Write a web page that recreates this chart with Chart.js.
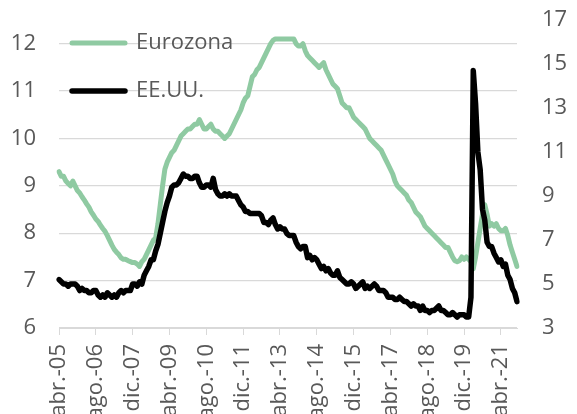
<!DOCTYPE html>
<html>
<head>
<meta charset="utf-8">
<script src="https://cdn.jsdelivr.net/npm/chart.js@4.4.0/dist/chart.umd.min.js"></script>
<style>
  body { margin: 0; background: #fff; }
  #wrap { width: 577px; height: 414px; position: relative; }
</style>
</head>
<body>
<div id="wrap"><canvas id="myChart"></canvas></div>
<script>
// monthly, abr.-2005 .. nov.-2021
var monthNames = ['ene.', 'feb.', 'mar.', 'abr.', 'may.', 'jun.', 'jul.', 'ago.', 'sept.', 'oct.', 'nov.', 'dic.'];
var startYear = 2005, startMonth = 3, nMonths = 200;
var labelStep = 16;

// paro Eurozona (%), eje izquierdo
var eurozona = [
  9.3, 9.2, 9.2, 9.1, 9.05, 9.0, 9.1, 9.0, 8.9,
  8.85, 8.77, 8.7, 8.62, 8.55, 8.45, 8.38, 8.3, 8.25, 8.17, 8.1, 8.04,
  7.95, 7.85, 7.75, 7.66, 7.6, 7.55, 7.48, 7.45, 7.45, 7.42, 7.4, 7.38,
  7.38, 7.35, 7.3, 7.4, 7.45, 7.55, 7.65, 7.75, 7.85, 7.9, 8.2, 8.6,
  9.0, 9.35, 9.5, 9.6, 9.7, 9.75, 9.85, 9.95, 10.05, 10.1, 10.15, 10.2,
  10.2, 10.25, 10.3, 10.3, 10.4, 10.3, 10.2, 10.2, 10.25, 10.3, 10.2, 10.15,
  10.15, 10.1, 10.05, 10.0, 10.05, 10.1, 10.2, 10.3, 10.4, 10.5, 10.6, 10.75,
  10.85, 10.9, 11.1, 11.3, 11.35, 11.45, 11.5, 11.6, 11.7, 11.8, 11.9, 12.0,
  12.07, 12.1, 12.1, 12.1, 12.1, 12.1, 12.1, 12.1, 12.1, 12.1, 12.0, 11.95,
  11.95, 12.0, 11.85, 11.75, 11.7, 11.65, 11.6, 11.55, 11.5, 11.55, 11.6, 11.45,
  11.35, 11.25, 11.15, 11.1, 11.05, 10.9, 10.75, 10.7, 10.65, 10.65, 10.55, 10.45,
  10.4, 10.35, 10.3, 10.25, 10.2, 10.1, 10.0, 9.95, 9.9, 9.85, 9.8, 9.75,
  9.65, 9.55, 9.45, 9.35, 9.25, 9.1, 9.0, 8.95, 8.9, 8.85, 8.8, 8.7,
  8.65, 8.55, 8.45, 8.4, 8.35, 8.25, 8.15, 8.1, 8.05, 8.0, 7.95, 7.9,
  7.85, 7.8, 7.75, 7.7, 7.7, 7.6, 7.5, 7.42, 7.4, 7.42, 7.5, 7.45,
  7.5, 7.45, 7.4, 7.25, 7.5, 7.8, 8.1, 8.4, 8.6, 8.4, 8.15, 8.2,
  8.15, 8.2, 8.1, 8.05, 8.05, 8.1, 7.95, 7.75, 7.6, 7.45, 7.3
];

// paro EE.UU. (%), eje derecho
var eeuu = [
  5.2, 5.1, 5.0, 5.0, 4.9, 5.0, 5.0, 5.0, 4.9,
  4.7, 4.8, 4.7, 4.7, 4.6, 4.6, 4.7, 4.7, 4.5, 4.4, 4.5, 4.4,
  4.6, 4.5, 4.4, 4.5, 4.4, 4.6, 4.7, 4.6, 4.7, 4.7, 4.7, 5.0,
  5.0, 4.9, 5.1, 5.0, 5.4, 5.6, 5.8, 6.1, 6.1, 6.5, 6.8, 7.3,
  7.8, 8.3, 8.7, 9.0, 9.4, 9.5, 9.5, 9.6, 9.8, 10.0, 9.9, 9.9,
  9.8, 9.8, 9.9, 9.9, 9.6, 9.4, 9.4, 9.5, 9.5, 9.4, 9.8, 9.3,
  9.1, 9.0, 9.0, 9.1, 9.0, 9.1, 9.0, 9.0, 9.0, 8.8, 8.6, 8.5,
  8.3, 8.3, 8.2, 8.2, 8.2, 8.2, 8.2, 8.1, 7.8, 7.8, 7.7, 7.9,
  8.0, 7.7, 7.5, 7.6, 7.5, 7.5, 7.3, 7.2, 7.2, 7.2, 6.9, 6.7,
  6.6, 6.7, 6.7, 6.2, 6.3, 6.1, 6.2, 6.1, 5.9, 5.7, 5.8, 5.6,
  5.7, 5.5, 5.4, 5.4, 5.6, 5.3, 5.2, 5.1, 5.0, 5.0, 5.1, 5.0,
  4.8, 4.9, 5.0, 5.1, 4.8, 4.9, 4.8, 4.9, 5.0, 4.9, 4.7, 4.7,
  4.7, 4.6, 4.4, 4.4, 4.4, 4.3, 4.3, 4.4, 4.3, 4.2, 4.2, 4.1,
  4.0, 4.1, 4.0, 4.0, 3.8, 4.0, 3.8, 3.8, 3.7, 3.8, 3.8, 3.9,
  4.0, 3.8, 3.8, 3.7, 3.6, 3.6, 3.7, 3.6, 3.5, 3.6, 3.6, 3.6,
  3.5, 3.5, 4.4, 14.7, 13.2, 11.0, 10.2, 8.4, 7.9, 6.9, 6.7, 6.7,
  6.4, 6.2, 6.0, 6.1, 5.8, 5.9, 5.4, 5.2, 4.8, 4.6, 4.2
];

var leftTicks = [6, 7, 8, 9, 10, 11, 12];
var rightTicks = [3, 5, 7, 9, 11, 13, 15, 17];

var labels = [];
for (var i = 0; i < nMonths; i++) {
  var m = (startMonth + i) % 12;
  var y = startYear + Math.floor((startMonth + i) / 12);
  labels.push(monthNames[m] + '-' + String(y).slice(2));
}

var green = '#8FCAA2';
var textColor = '#595959';
var gridColor = '#D9D9D9';
var font = { family: '"Open Sans", sans-serif', size: 22 };

// leyenda dentro del area del grafico
var insideLegend = {
  id: 'insideLegend',
  afterDraw: function(chart) {
    var ctx = chart.ctx;
    var area = chart.chartArea;
    var rows = [
      { text: chart.data.datasets[1].label, color: chart.data.datasets[1].borderColor, w: 5, y: area.top + 23 },
      { text: chart.data.datasets[0].label, color: chart.data.datasets[0].borderColor, w: 5.5, y: area.top + 71 }
    ];
    ctx.save();
    rows.forEach(function(r) {
      ctx.strokeStyle = r.color;
      ctx.lineWidth = r.w;
      ctx.lineCap = 'round';
      ctx.beginPath();
      ctx.moveTo(area.left + 13, r.y);
      ctx.lineTo(area.left + 66, r.y);
      ctx.stroke();
      ctx.fillStyle = textColor;
      ctx.font = font.size + 'px ' + font.family;
      ctx.textBaseline = 'middle';
      ctx.textAlign = 'left';
      ctx.fillText(r.text, area.left + 77, r.y);
    });
    ctx.restore();
  }
};

var ctx = document.getElementById('myChart');
new Chart(ctx, {
  type: 'line',
  data: {
    labels: labels,
    datasets: [
      {
        label: 'EE.UU.',
        data: eeuu,
        yAxisID: 'y2',
        borderColor: '#000000',
        borderWidth: 5.5,
        pointRadius: 0,
        tension: 0,
        borderJoinStyle: 'round',
        borderCapStyle: 'round',
        order: 0
      },
      {
        label: 'Eurozona',
        data: eurozona,
        yAxisID: 'y',
        borderColor: green,
        borderWidth: 5,
        pointRadius: 0,
        tension: 0,
        borderJoinStyle: 'round',
        borderCapStyle: 'round',
        order: 1
      }
    ]
  },
  options: {
    responsive: true,
    maintainAspectRatio: false,
    animation: false,
    layout: { padding: { top: 20, left: 0, right: 0, bottom: 0 } },
    plugins: {
      legend: { display: false },
      tooltip: { enabled: false }
    },
    scales: {
      x: {
        offset: false,
        grid: { display: true, drawOnChartArea: false, drawTicks: true, tickLength: 7, color: gridColor },
        border: { display: true, color: gridColor, width: 1 },
        ticks: {
          autoSkip: false,
          maxRotation: 90,
          minRotation: 90,
          padding: 9,
          color: textColor,
          font: font,
          callback: function(v, i) { return i % labelStep === 0 ? labels[i] : null; }
        },
        afterFit: function(s) { s.height = 86; s.paddingLeft = 0; s.paddingRight = 0; }
      },
      y: {
        position: 'left',
        min: 6,
        max: 12.5,
        afterBuildTicks: function(s) { s.ticks = leftTicks.map(function(v) { return { value: v }; }); },
        grid: { color: gridColor, lineWidth: 1.3, drawTicks: false },
        border: { display: false },
        ticks: { padding: 23, color: textColor, font: font },
        afterFit: function(s) { s.width = 59; s.paddingTop = 0; s.paddingBottom = 0; }
      },
      y2: {
        position: 'right',
        min: 3,
        max: 17,
        afterBuildTicks: function(s) { s.ticks = rightTicks.map(function(v) { return { value: v }; }); },
        grid: { drawOnChartArea: false, drawTicks: false },
        border: { display: false },
        ticks: { padding: 25, color: textColor, font: font },
        afterFit: function(s) { s.width = 60; s.paddingTop = 0; s.paddingBottom = 0; }
      }
    }
  },
  plugins: [insideLegend]
});
</script>
</body>
</html>
